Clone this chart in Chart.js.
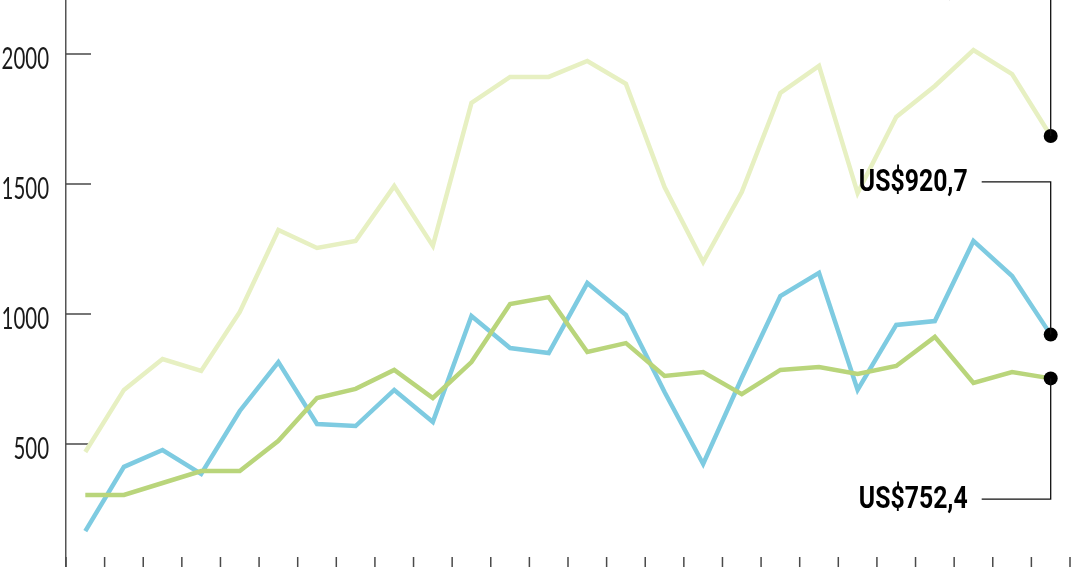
<!DOCTYPE html>
<html>
<head>
<meta charset="utf-8">
<script src="https://cdn.jsdelivr.net/npm/chart.js@4.4.1/dist/chart.umd.min.js"></script>
<style>
  html, body { margin: 0; padding: 0; background: #fff; overflow: hidden; }
  #wrap { position: absolute; left: 0; top: -80px; width: 1080px; height: 700px; }
</style>
</head>
<body>
<div id="wrap"><canvas id="chart" width="1080" height="700"></canvas></div>
<script>
  // 26 periods, labels not shown in the cropped picture
  var periods = ['1', '2', '3', '4', '5', '6', '7', '8', '9', '10', '11', '12', '13',
                 '14', '15', '16', '17', '18', '19', '20', '21', '22', '23', '24', '25', '26'];

  var paleSeries = [469, 708, 827, 781, 1008, 1323, 1254, 1281, 1492, 1262, 1812, 1912, 1912,
                    1973, 1885, 1488, 1200, 1469, 1850, 1954, 1465, 1758, 1877, 2015, 1923, 1684.6];
  var blueSeries = [165, 412, 477, 385, 627, 815, 577, 569, 708, 585, 992, 869, 850,
                    1119, 996, 700, 423, 754, 1069, 1158, 708, 958, 973, 1281, 1146, 920.7];
  var greenSeries = [304, 304, 350, 396, 396, 512, 677, 712, 785, 677, 815, 1038, 1065,
                     854, 888, 762, 777, 692, 785, 796, 769, 800, 912, 735, 777, 752.4];

  var yTicks = [0, 500, 1000, 1500, 2000];

  // callout labels: dataset index, value where the label line sits, text
  var callouts = [
    { dataset: 2, at: 2262, text: 'US$1684,6' },
    { dataset: 1, at: 1508, text: 'US$920,7' },
    { dataset: 0, at: 288, text: 'US$752,4' }
  ];

  var last = periods.length - 1;
  function dotRadius(ctx) { return ctx.dataIndex === last ? 7 : 0; }

  // condensed text: no narrow font installed, so squeeze horizontally
  function squeezedText(ctx, text, x, y, sx) {
    ctx.save();
    ctx.translate(x, y);
    ctx.scale(sx, 1);
    ctx.fillText(text, 0, 0);
    ctx.restore();
  }

  var inwardTicks = {
    id: 'inwardTicks',
    beforeDatasetsDraw: function(chart) {
      var ctx = chart.ctx, area = chart.chartArea;
      var x = chart.scales.x, y = chart.scales.y;
      ctx.save();
      ctx.strokeStyle = '#4a4a4a';
      ctx.lineWidth = 1.5;
      ctx.beginPath();
      yTicks.forEach(function(v) {
        if (v <= 0) return;
        var py = y.getPixelForValue(v);
        ctx.moveTo(area.left, py);
        ctx.lineTo(area.left + 25, py);
      });
      for (var i = 0; i <= periods.length; i++) {
        var px = x.getPixelForValue(i - 0.5);
        ctx.moveTo(px, area.bottom);
        ctx.lineTo(px, area.bottom - 17);
      }
      ctx.stroke();

      // y tick labels
      ctx.fillStyle = '#1a1a1a';
      ctx.font = '400 31px Lato, "Open Sans", sans-serif';
      ctx.textAlign = 'right';
      ctx.textBaseline = 'middle';
      yTicks.forEach(function(v) {
        squeezedText(ctx, String(v), area.left - 17, y.getPixelForValue(v) + 5, 0.66);
      });
      ctx.restore();
    }
  };

  var calloutPlugin = {
    id: 'callouts',
    afterDatasetsDraw: function(chart) {
      var ctx = chart.ctx, y = chart.scales.y;
      ctx.save();
      ctx.strokeStyle = '#111';
      ctx.lineWidth = 1.3;
      ctx.fillStyle = '#000';
      ctx.font = 'bold 31px Roboto, "Open Sans", sans-serif';
      ctx.textAlign = 'right';
      ctx.textBaseline = 'middle';
      callouts.forEach(function(c) {
        var pt = chart.getDatasetMeta(c.dataset).data[last];
        var ly = y.getPixelForValue(c.at);
        ctx.beginPath();
        ctx.moveTo(pt.x - 69, ly);
        ctx.lineTo(pt.x, ly);
        ctx.lineTo(pt.x, pt.y);
        ctx.stroke();
        squeezedText(ctx, c.text, pt.x - 83, ly + 1, 0.8);
      });
      ctx.restore();
    }
  };

  new Chart(document.getElementById('chart').getContext('2d'), {
    type: 'line',
    data: {
      labels: periods,
      datasets: [{
        data: greenSeries,
        borderColor: '#b9d57b',
        borderWidth: 4.5,
        pointRadius: dotRadius,
        pointBackgroundColor: '#000',
        pointBorderWidth: 0,
        tension: 0
      }, {
        data: blueSeries,
        borderColor: '#7ecbe1',
        borderWidth: 4.5,
        pointRadius: dotRadius,
        pointBackgroundColor: '#000',
        pointBorderWidth: 0,
        tension: 0
      }, {
        data: paleSeries,
        borderColor: '#e7f0c2',
        borderWidth: 4.5,
        pointRadius: dotRadius,
        pointBackgroundColor: '#000',
        pointBorderWidth: 0,
        tension: 0
      }]
    },
    options: {
      responsive: false,
      animation: false,
      layout: { padding: { top: 56, bottom: 46, left: 0, right: 10 } },
      plugins: {
        legend: { display: false },
        tooltip: { enabled: false }
      },
      scales: {
        x: {
          display: false,
          offset: true
        },
        y: {
          min: 0,
          max: 2300,
          afterFit: function(scale) { scale.width = 66; },
          grid: { display: false, drawTicks: false },
          border: { display: true, color: '#555', width: 1.5 },
          ticks: { display: false, stepSize: 500 }
        }
      }
    },
    plugins: [inwardTicks, calloutPlugin]
  });
</script>
</body>
</html>
